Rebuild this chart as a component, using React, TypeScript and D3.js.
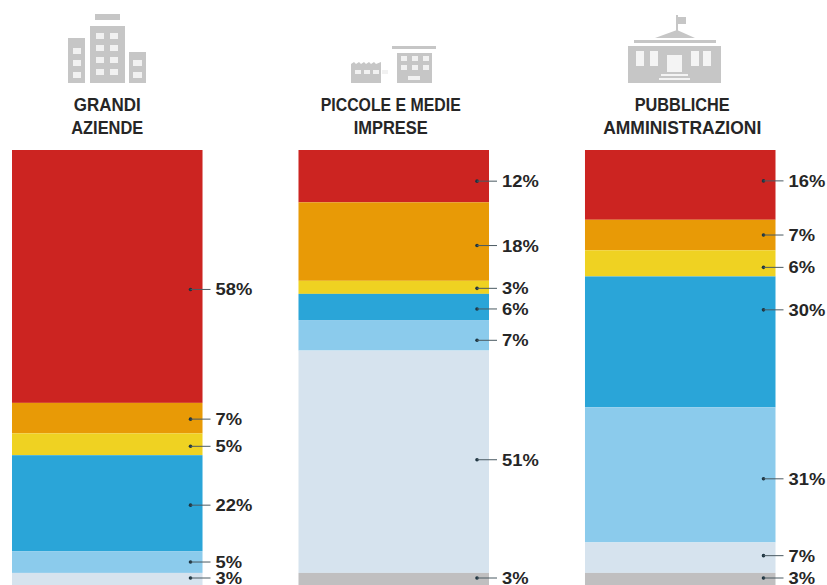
import React from "react";
import * as d3 from "d3";

const W = 827;
const H = 585;

const sectors = ["GRANDI AZIENDE", "PICCOLE E MEDIE IMPRESE", "PUBBLICHE AMMINISTRAZIONI"];
const titleLines = [
  ["GRANDI", "AZIENDE"],
  ["PICCOLE E MEDIE", "IMPRESE"],
  ["PUBBLICHE", "AMMINISTRAZIONI"],
];
// Set widths that squeeze the heading lines into a condensed look
const titleWidths = [
  [67, 72],
  [140, 74],
  [95, 158],
];

const grandiAziende = [58, 7, 5, 22, 5, 3, 0];
const piccoleMedie = [12, 18, 3, 6, 7, 51, 3];
const pubblicheAmm = [16, 7, 6, 30, 31, 7, 3];
const seriesBySector = [grandiAziende, piccoleMedie, pubblicheAmm];

// Bands from top to bottom of each stacked column
const bandColors = ["#cc2421", "#e89a06", "#efd222", "#2aa5d8", "#8bcbec", "#d6e3ee", "#c0bfc0"];

// Vertical nudges of the leader ticks away from each band's centre
const nudges = [
  [13, 1, 2, 2, 0, 0, 0],
  [5, 4, 1, 2, 5, -2, 0],
  [-4, 0, 4, -32, 4, -2, 0],
];

const ICON = "#c6c6c6";
const INK = "#262626";
const FONT = "'Liberation Sans', sans-serif";

const x = d3.scaleBand<string>().domain(sectors).range([12, 775.5]).paddingInner(0.335).paddingOuter(0);
const y = d3.scaleLinear().domain([0, 100]).range([150, 586]);

function Towers() {
  const cols = d3.range(2);
  const rows = d3.range(4);
  return (
    <g fill={ICON}>
      <rect x={95} y={14} width={25} height={6} />
      <rect x={90} y={26} width={35} height={57} />
      <rect x={68} y={38} width={17} height={45} />
      <rect x={129} y={52} width={17} height={31} />
      <g fill="#f1f1f1">
        {rows.map((r) => cols.map((c) => <rect key={`${r}${c}`} x={96 + c * 14} y={33 + r * 12} width={8} height={6} />))}
        {d3.range(3).map((r) => <rect key={r} x={73} y={48 + r * 12} width={8} height={6} />)}
        {d3.range(2).map((r) => <rect key={r} x={133} y={60 + r * 12} width={9} height={6} />)}
      </g>
    </g>
  );
}

function Factory() {
  return (
    <g fill={ICON}>
      <rect x={392} y={46} width={44} height={3} />
      <rect x={397} y={53} width={35} height={30} />
      <path d="M351 83V64l3-2 2 2 3-2 2 2 3-2 2 2 3-2 2 2 3-2 2 2 5-2v21z" />
      <g fill="#f1f1f1">
        {d3.range(4).map((i) => <rect key={i} x={355 + i * 9} y={70} width={6} height={4} />)}
        {d3.range(2).map((r) =>
          d3.range(3).map((c) => <rect key={`${r}${c}`} x={401 + c * 11} y={56 + r * 9} width={6} height={5} />),
        )}
        <rect x={408} y={76} width={12} height={4} />
      </g>
    </g>
  );
}

function Townhall() {
  return (
    <g fill={ICON}>
      <rect x={676} y={15} width={2} height={16} />
      <rect x={678} y={17} width={8} height={7} />
      <path d="M655 38L677 30L695 38z" />
      <rect x={634} y={40} width={82} height={3} />
      <rect x={628} y={46} width={93} height={37} />
      <g fill="#f4f4f4">
        {[636, 650, 691, 703].map((wx) => <rect key={wx} x={wx} y={51} width={8} height={15} />)}
        <rect x={667} y={55} width={15} height={17} />
        <rect x={661} y={74} width={27} height={2} />
        <rect x={659} y={78} width={31} height={2} />
      </g>
    </g>
  );
}

export default function App() {
  const stacks = seriesBySector.map((values) => {
    let acc = 0;
    return values.map((v) => {
      const from = acc;
      acc += v;
      return { v, from, to: acc };
    });
  });

  return (
    <svg
      width={W}
      height={H}
      viewBox={`0 0 ${W} ${H}`}
      style={{ position: "fixed", left: 0, top: 0, background: "#fff" }}
    >
      <Towers />
      <Factory />
      <Townhall />
      {sectors.map((s, i) => {
        const bx = x(s) as number;
        const bw = x.bandwidth();
        const cx = bx + bw / 2 + (i === 1 ? -3 : i === 2 ? 2 : 0);
        return (
          <g key={s}>
            {titleLines[i].map((line, j) => (
              <text
                key={line}
                x={cx}
                y={111 + j * 23}
                textAnchor="middle"
                textLength={titleWidths[i][j]}
                lengthAdjust="spacingAndGlyphs"
                fontFamily={FONT}
                fontWeight={700}
                fontSize={19}
                fill={INK}
              >
                {line}
              </text>
            ))}
            {stacks[i].map((d, k) =>
              d.v > 0 ? (
                <rect key={k} x={bx} y={y(d.from)} width={bw} height={y(d.to) - y(d.from)} fill={bandColors[k]} />
              ) : null,
            )}
            {stacks[i].map((d, k) => {
              if (d.v === 0) return null;
              const ly = Math.min((y(d.from) + y(d.to)) / 2 + nudges[i][k], 578);
              const lx = bx + bw + 13;
              return (
                <g key={k}>
                  <circle cx={bx + bw - 12} cy={ly} r={1.8} fill="#1d3440" />
                  <line x1={bx + bw - 12} x2={bx + bw + 8} y1={ly} y2={ly} stroke="#4a5a62" strokeWidth={1} />
                  <text
                    transform={`translate(${lx},${ly + 6}) scale(1.08,1)`}
                    fontFamily={FONT}
                    fontWeight={700}
                    fontSize={17}
                    fill={INK}
                  >
                    {d.v}%
                  </text>
                </g>
              );
            })}
          </g>
        );
      })}
    </svg>
  );
}
